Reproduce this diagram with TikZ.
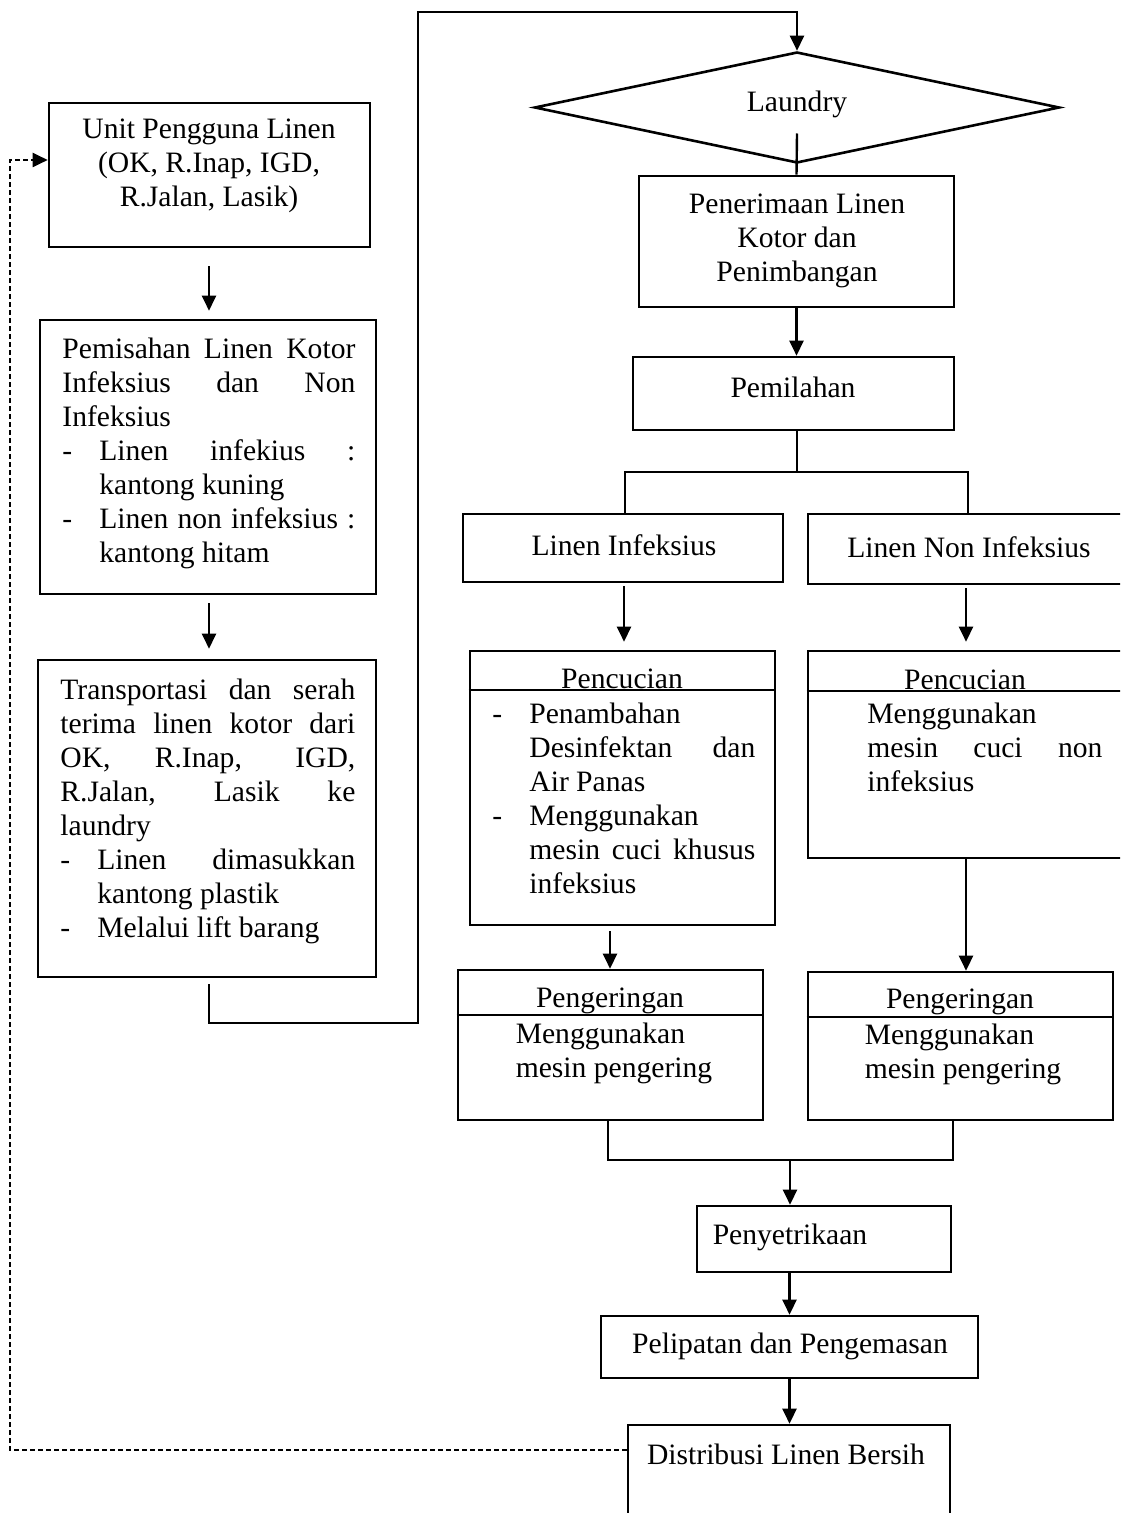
\documentclass[tikz,border=0pt]{standalone}
\usepackage{fontspec}
\setmainfont{Liberation Serif}
\usetikzlibrary{arrows.meta,shapes.geometric}
\hyphenpenalty=10000
\exhyphenpenalty=10000
\tolerance=10000
\newcommand\dashitem{\hangindent=18.5pt\hangafter=1\noindent\makebox[18.5pt][l]{-}}
\begin{document}
\begin{tikzpicture}[x=0.5pt,y=-0.5pt,
  font=\fontsize{14.8pt}{17pt}\selectfont,
  box/.style={draw, line width=1.3pt, inner sep=0pt},
  arr/.style={-{Triangle[length=7.5pt,width=7pt]}, line width=1.2pt},
  ln/.style={line width=1.2pt},
  txt/.style={inner sep=0pt, align=center},
  jtxt/.style={inner sep=0pt, anchor=north west, align=justify},
  dsh/.style={line width=1pt, dash pattern=on 2.5pt off 1.5pt}]
\clip (0,0) rectangle (1120,1513);
\fill[white] (0,0) rectangle (1120,1513);

% ---------- left column ----------
\node[box, minimum width=160.5pt, minimum height=72pt] (unit) at (209.5,175) {};
\node[txt] (unitT) at (209,166) {Unit Pengguna Linen\\(OK, R.Inap, IGD,\\R.Jalan, Lasik)};

\node[box, minimum width=168pt, minimum height=137pt] (pem) at (208,457) {};
\node[jtxt, text width=146.5pt] (pemT) at (62,338) {Pemisahan Linen Kotor\linebreak Infeksius dan Non\linebreak Infeksius\par
\dashitem Linen infekius :\linebreak kantong kuning\par
\dashitem Linen non infeksius :\linebreak kantong hitam\par};

\node[box, minimum width=169pt, minimum height=158.5pt] (trans) at (207,818.5) {};
\node[jtxt, text width=147.5pt] (transT) at (60,679) {Transportasi dan serah\linebreak terima linen kotor dari\linebreak OK, R.Inap, IGD,\linebreak R.Jalan, Lasik ke\linebreak laundry\par
\dashitem Linen dimasukkan\linebreak kantong plastik\par
\dashitem Melalui lift barang\par};

% ---------- right column ----------
\node[draw, diamond, aspect=4.7, minimum width=262.5pt, minimum height=55.5pt, inner sep=0pt, line width=1.3pt] (laundry) at (797,107.5) {};
\node[txt] (laundryT) at (797,104) {Laundry};

\node[box, minimum width=157.5pt, minimum height=65.5pt] (pen) at (796.5,241.5) {};
\node[txt] (penT) at (797,241) {Penerimaan Linen\\Kotor dan\\Penimbangan};

\node[box, minimum width=160.5pt, minimum height=36.5pt] (pml) at (793.5,393.5) {};
\node[txt] (pmlT) at (793,387) {Pemilahan};

\node[box, minimum width=160pt, minimum height=34pt] (linf) at (623,548) {};
\node[txt] (linfT) at (624,545) {Linen Infeksius};
\node[box, minimum width=161pt, minimum height=35pt] (lnon) at (969,549) {};
\node[txt] (lnonT) at (969,547) {Linen Non Infeksius};

% Pencucian boxes
\node[box, minimum width=152.5pt, minimum height=137pt] (pcl) at (622.5,788) {};
\draw[ln] (pcl.west |- 0,690) -- (pcl.east |- 0,690);
\node[inner sep=0pt, anchor=base] (pclH) at (622,688) {Pencucian};
\node[jtxt, text width=131.5pt] (pclT) at (492,703) {\dashitem Penambahan\newline Desinfektan dan\linebreak Air Panas\par
\dashitem Menggunakan\newline mesin cuci khusus\linebreak infeksius\par};

\node[box, minimum width=157pt, minimum height=103.5pt] (pcr) at (965,754.5) {};
\draw[ln] (pcr.west |- 0,691) -- (pcr.east |- 0,691);
\node[inner sep=0pt, anchor=base] (pcrH) at (965,689) {Pencucian};
\node[jtxt, text width=117.5pt] (pcrT) at (867,703) {Menggunakan\newline mesin cuci non\linebreak infeksius\par};

% Pengeringan boxes
\node[box, minimum width=152.5pt, minimum height=75pt] (pgl) at (610.5,1045) {};
\draw[ln] (pgl.west |- 0,1015) -- (pgl.east |- 0,1015);
\node[txt] (pglH) at (610,1001) {Pengeringan};
\node[inner sep=0pt, align=left] (pglT) at (614,1053) {Menggunakan\\mesin pengering};

\node[box, minimum width=152.5pt, minimum height=74pt] (pgr) at (960.5,1046) {};
\draw[ln] (pgr.west |- 0,1017) -- (pgr.east |- 0,1017);
\node[txt] (pgrH) at (960,1002) {Pengeringan};
\node[inner sep=0pt, align=left] (pgrT) at (963,1054) {Menggunakan\\mesin pengering};

% lower chain
\node[box, minimum width=127pt, minimum height=33pt] (pny) at (824,1239) {};
\node[txt] (pnyT) at (790,1237) {Penyetrikaan};
\node[box, minimum width=188.5pt, minimum height=31pt] (plp) at (789.5,1347) {};
\node[txt] (plpT) at (790,1346) {Pelipatan dan Pengemasan};
\node[box, minimum width=161pt, minimum height=67.5pt] (dst) at (789,1492.5) {};
\node[txt] (dstT) at (786,1454) {Distribusi Linen Bersih};

\coordinate (split) at (797,472);
\coordinate (merge) at (790,1160);

% ---------- connectors ----------
\draw[arr, shorten <=9pt, shorten >=4pt] (unit.south -| 209,0) -- (pem.north -| 209,0);
\draw[arr, shorten <=4pt, shorten >=5pt] (pem.south -| 209,0) -- (trans.north -| 209,0);
\draw[arr, shorten <=3pt] (trans.south -| 209,0) -- (209,1023) -- (418,1023) -- (418,12) -- (laundry.north |- 0,12) -- (laundry.north);
\draw[ln] ([yshift=-13pt]laundry.center) -- (pen.north);
\draw[arr] (pen.south) -- (pen.south |- pml.north);
\draw[ln] (pml.south -| split) -- (split);
\draw[ln] (linf.north -| 625,0) |- (split) -| (lnon.north -| 968,0);
\draw[arr, shorten <=1.5pt, shorten >=4pt] (linf.south -| 624,0) -- (pcl.north -| 624,0);
\draw[arr, shorten <=1.5pt, shorten >=4pt] (lnon.south -| 966,0) -- (pcr.north -| 966,0);
\draw[arr, shorten <=2.5pt] (pcl.south -| 610,0) -- (pgl.north -| 610,0);
\draw[arr] (pcr.south -| 966,0) -- (pgr.north -| 966,0);
\draw[ln] (pgl.south -| 608,0) |- (merge) -| (pgr.south -| 953,0);
\draw[arr] (merge) -- (merge |- pny.north);
\draw[arr] (plp.north |- pny.south) -- (plp.north);
\draw[arr] (plp.south) -- (plp.south |- dst.north);
\draw[dsh, -{Triangle[length=7.5pt,width=7pt]}] (dst.west |- 0,1450) -- (10,1450) -- (10,160) -- (unit.west |- 0,160);
\end{tikzpicture}
\end{document}
